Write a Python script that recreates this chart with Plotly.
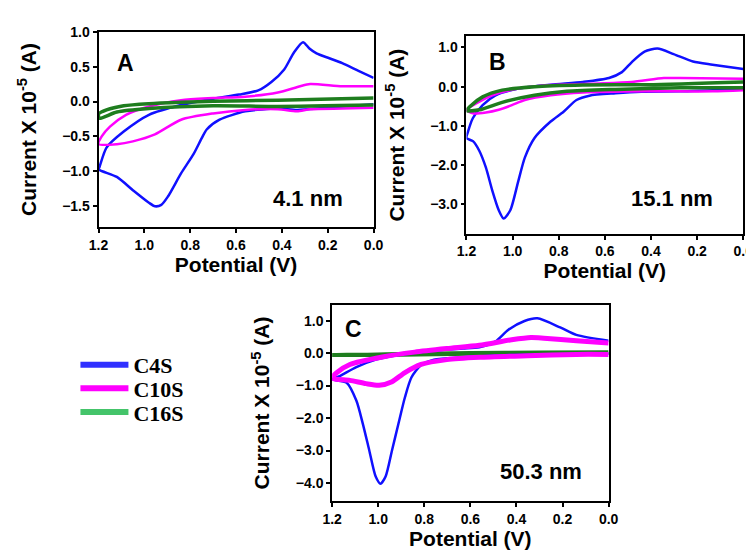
import plotly.graph_objects as go

# ---------------- data (potential V, current x1e-5 A) ----------------
A_C4S_E = [0.0, 0.066, 0.137, 0.193, 0.249, 0.28, 0.308, 0.348, 0.39, 0.446, 0.503, 0.587, 0.70, 0.84, 0.98, 1.09, 1.165, 1.196, 1.2,
           1.12, 1.05, 0.98, 0.954, 0.926, 0.897, 0.84, 0.785, 0.749, 0.728, 0.672, 0.56, 0.418, 0.334, 0.207, 0.0]
A_C4S_I = [0.34, 0.44, 0.55, 0.62, 0.69, 0.76, 0.85, 0.70, 0.46, 0.28, 0.16, 0.10, 0.04, -0.05, -0.19, -0.43, -0.66, -0.94, -0.97,
           -1.08, -1.27, -1.45, -1.50, -1.48, -1.36, -1.03, -0.75, -0.52, -0.40, -0.26, -0.14, -0.10, -0.12, -0.09, -0.04]

A_C10S_E = [0.0, 0.137, 0.277, 0.32, 0.418, 0.56, 0.70, 0.84, 0.98, 1.08, 1.15, 1.186, 1.2,
            1.12, 1.05, 0.954, 0.84, 0.70, 0.56, 0.418, 0.334, 0.277, 0.137, 0.0]
A_C10S_I = [0.22, 0.22, 0.25, 0.22, 0.13, 0.07, 0.05, 0.02, -0.07, -0.19, -0.36, -0.50, -0.61,
            -0.61, -0.57, -0.47, -0.26, -0.17, -0.12, -0.11, -0.14, -0.11, -0.10, -0.09]

A_C16S_E = [0.0, 0.418, 0.70, 0.84, 0.98, 1.09, 1.165, 1.2, 1.196, 1.12, 0.98, 0.70, 0.418, 0.0]
A_C16S_I = [0.05, 0.02, 0.005, -0.01, -0.03, -0.06, -0.12, -0.18, -0.24, -0.15, -0.10, -0.06, -0.07, -0.05]

B_C4S_E = [0.0, 0.133, 0.218, 0.302, 0.372, 0.428, 0.484, 0.526, 0.582, 0.695, 0.835, 0.975, 1.074, 1.13, 1.172, 1.193, 1.2,
           1.172, 1.144, 1.116, 1.088, 1.06, 1.039, 1.01, 0.975, 0.947, 0.905, 0.835, 0.779, 0.723, 0.667, 0.554, 0.442, 0.274, 0.133, 0.0]
B_C4S_I = [0.45, 0.56, 0.64, 0.83, 0.97, 0.89, 0.62, 0.37, 0.22, 0.12, 0.05, -0.05, -0.22, -0.47, -0.80, -1.14, -1.31,
           -1.39, -1.64, -2.06, -2.65, -3.15, -3.36, -3.15, -2.40, -1.81, -1.31, -0.89, -0.64, -0.34, -0.23, -0.17, -0.13, -0.12, -0.09, -0.07]

B_C10S_E = [0.0, 0.274, 0.344, 0.484, 0.625, 0.835, 0.975, 1.088, 1.158, 1.2,
            1.172, 1.116, 1.06, 1.003, 0.947, 0.835, 0.695, 0.415, 0.133, 0.0]
B_C10S_I = [0.20, 0.22, 0.22, 0.12, 0.08, 0.04, -0.05, -0.22, -0.43, -0.59,
            -0.68, -0.66, -0.59, -0.47, -0.34, -0.22, -0.15, -0.12, -0.12, -0.09]

B_C16S_E = [0.0, 0.415, 0.695, 0.905, 1.045, 1.13, 1.186, 1.2, 1.144, 1.045, 0.905, 0.765, 0.554, 0.274, 0.0]
B_C16S_I = [0.12, 0.05, 0.04, 0.0, -0.09, -0.26, -0.51, -0.61, -0.59, -0.40, -0.22, -0.12, -0.07, -0.03, -0.03]

C_C4S_E = [0.0, 0.14, 0.21, 0.309, 0.365, 0.435, 0.491, 0.561, 0.632, 0.702, 0.80, 0.912, 1.01, 1.095, 1.165, 1.2,
           1.137, 1.095, 1.067, 1.039, 1.011, 0.99, 0.968, 0.94, 0.912, 0.884, 0.856, 0.814, 0.758, 0.632, 0.421, 0.14, 0.0]
C_C4S_I = [0.38, 0.56, 0.79, 1.07, 0.99, 0.72, 0.36, 0.18, 0.14, 0.11, 0.04, -0.06, -0.20, -0.43, -0.70, -0.81,
           -0.91, -1.46, -2.17, -2.99, -3.80, -4.02, -3.80, -2.99, -2.17, -1.36, -0.75, -0.37, -0.20, -0.13, -0.06, -0.04, -0.02]

C_C10S_E = [0.0, 0.14, 0.281, 0.337, 0.421, 0.561, 0.702, 0.842, 0.982, 1.123, 1.18, 1.2,
            1.123, 1.053, 0.996, 0.94, 0.884, 0.814, 0.702, 0.561, 0.351, 0.14, 0.0]
C_C10S_I = [0.31, 0.38, 0.46, 0.48, 0.41, 0.24, 0.14, 0.03, -0.12, -0.35, -0.60, -0.77,
            -0.84, -0.94, -0.99, -0.88, -0.60, -0.35, -0.20, -0.13, -0.08, -0.04, -0.04]

C_C16S_E = [0.0, 0.3, 0.6, 0.9, 1.2, 0.9, 0.6, 0.3, 0.0]
C_C16S_I = [0.03, 0.02, 0.0, -0.03, -0.06, -0.05, -0.02, 0.0, 0.02]

SERIES = ["C4S", "C10S", "C16S"]
X_TICKS = [1.2, 1.0, 0.8, 0.6, 0.4, 0.2, 0.0]
A_Y_TICKS = [1.0, 0.5, 0.0, -0.5, -1.0, -1.5]
B_Y_TICKS = [1.0, 0.0, -1.0, -2.0, -3.0]
C_Y_TICKS = [1.0, 0.0, -1.0, -2.0, -3.0, -4.0]

# ---------------- style ----------------
W, H = 754, 552
BLUE, MAGENTA, GREEN = "#1010ff", "#ff00ff", "#1e7d1e"
LEG_COLORS = {"C4S": "#3030ff", "C10S": "#ff00ff", "C16S": "#44c46a"}
FONT = "Liberation Sans"

fig = go.Figure()

def add(e, i, color, width, ax):
    fig.add_trace(go.Scatter(x=e, y=i, mode="lines", xaxis="x" + ax, yaxis="y" + ax,
                             line=dict(color=color, width=width, shape="spline", smoothing=0.7),
                             showlegend=False, hoverinfo="skip"))

# panel A
add(A_C4S_E, A_C4S_I, BLUE, 2.5, "")
add(A_C10S_E, A_C10S_I, MAGENTA, 2.5, "")
add(A_C16S_E, A_C16S_I, GREEN, 3.5, "")
# panel B
add(B_C4S_E, B_C4S_I, BLUE, 2.5, "2")
add(B_C10S_E, B_C10S_I, MAGENTA, 2.5, "2")
add(B_C16S_E, B_C16S_I, GREEN, 3.5, "2")
# panel C
add(C_C16S_E, C_C16S_I, GREEN, 4, "3")
add(C_C4S_E, C_C4S_I, BLUE, 2.5, "3")
add(C_C10S_E, C_C10S_I, MAGENTA, 5, "3")

# legend-only entries, one legend per entry for exact placement
LEG_NAMES = ["legend", "legend2", "legend3"]
for s, ln in zip(SERIES, LEG_NAMES):
    fig.add_trace(go.Scatter(x=[None], y=[None], mode="lines", name=s, legend=ln,
                             line=dict(color=LEG_COLORS[s], width=6), showlegend=True))

def px_x(a, b):
    return [a / W, b / W]

def px_y(top, bottom):
    return [1 - bottom / H, 1 - top / H]

tickfont = dict(family=FONT, size=14, color="black", weight=700)
titlefont = dict(family=FONT, size=21, color="black", weight=700)

def xax(domain, anchor):
    return dict(domain=domain, anchor=anchor, range=[1.2, 0.0], tickvals=X_TICKS, tickformat=".1f",
                showline=True, linecolor="black", linewidth=1.8, mirror=True, ticks="outside",
                ticklen=4, tickwidth=1.5, tickcolor="black", showgrid=False, zeroline=False,
                tickfont=tickfont, title=dict(text="Potential (V)", font=titlefont, standoff=2))

def yax(domain, anchor, rng, ticks):
    return dict(domain=domain, anchor=anchor, range=rng, tickvals=ticks, tickformat=".1f",
                showline=True, linecolor="black", linewidth=1.8, mirror=True, ticks="outside",
                ticklen=4, tickwidth=1.5, tickcolor="black", showgrid=False, zeroline=False,
                tickfont=tickfont,
                title=dict(text="Current X 10<sup>-5</sup> (A)", font=titlefont, standoff=20))

def leg(ycenter):
    return dict(x=59 / W, y=1 - ycenter / H, xanchor="left", yanchor="middle", itemwidth=48,
                font=dict(family="Liberation Serif", size=22, color="black", weight=700),
                bgcolor="rgba(0,0,0,0)", borderwidth=0)

fig.update_layout(
    width=W, height=H, margin=dict(l=0, r=0, t=0, b=0),
    paper_bgcolor="white", plot_bgcolor="white",
    xaxis=xax(px_x(82.7, 365.3), "y"),
    yaxis=yax(px_y(16, 214.3), "x", [-1.8, 1.0], A_Y_TICKS),
    xaxis2=xax(px_x(460.7, 745), "y2"),
    yaxis2=yax(px_y(20.7, 221), "x2", [-3.75, 1.28], B_Y_TICKS),
    xaxis3=xax(px_x(322.7, 606.7), "y3"),
    yaxis3=yax(px_y(293.3, 492), "x3", [-4.55, 1.48], C_Y_TICKS),
    legend=leg(354), legend2=leg(378), legend3=leg(402),
)

def label(text, x, y, size):
    fig.add_annotation(text=text, x=x / W, y=1 - y / H, xref="paper", yref="paper",
                       showarrow=False, xanchor="center", yanchor="middle",
                       font=dict(family=FONT, size=size, color="black", weight=700))

label("A", 110, 48, 23)
label("4.1 nm", 298, 185, 22)
label("B", 493, 47, 23)
label("15.1 nm", 672, 185, 22)
label("C", 345, 318, 23)
label("50.3 nm", 537, 462, 22)

fig.write_html("out.html")
